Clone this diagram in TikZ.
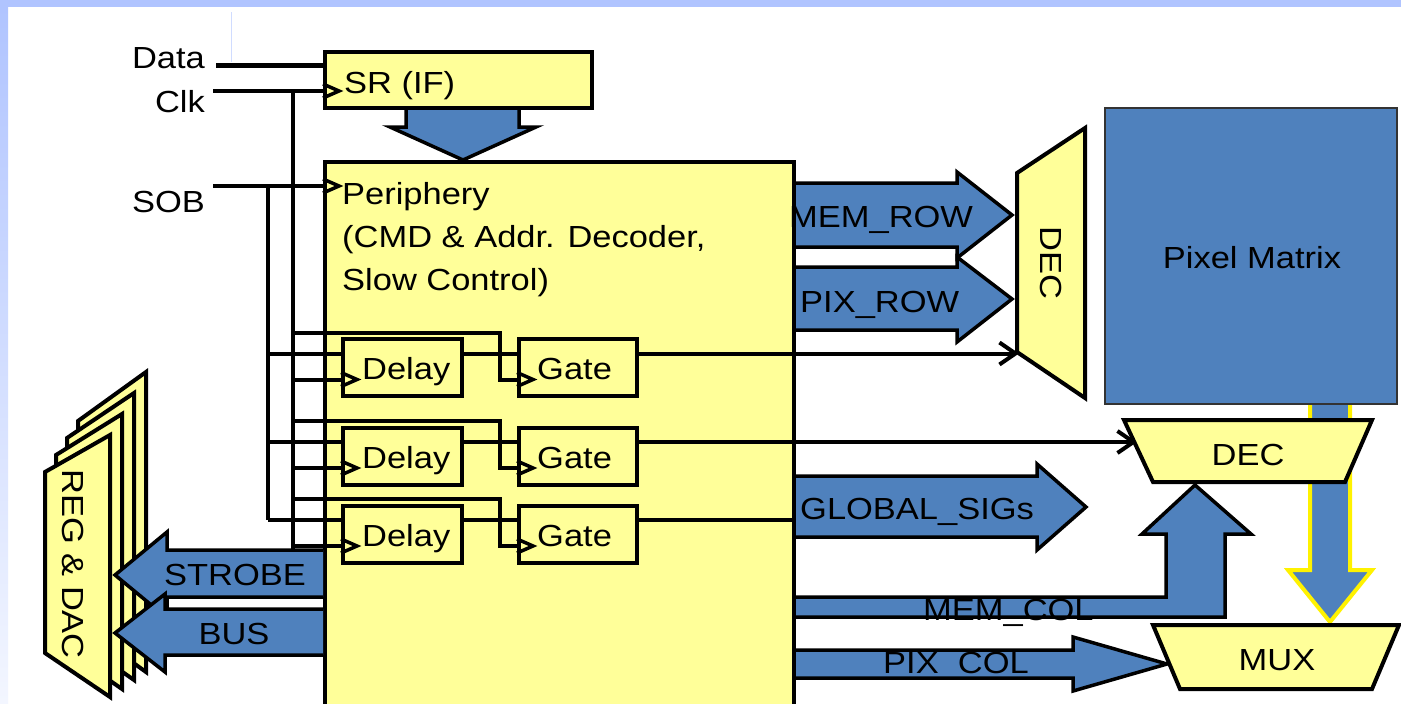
\documentclass[tikz,border=0pt]{standalone}
\usepackage{fontspec}
\setmainfont{Liberation Sans}[FakeStretch=1.13]
\usetikzlibrary{arrows.meta}

\definecolor{slideblue}{RGB}{176,196,255}
\definecolor{padyellow}{RGB}{255,255,153}
\definecolor{busblue}{RGB}{79,129,189}

\tikzset{
  blk/.style={draw,line width=4pt,fill=padyellow,inner sep=0pt},
  lbl/.style={inner sep=0pt,font=\fontsize{30.5}{36}\selectfont},
  wire/.style={line width=4pt},
  fat/.style={draw,line width=3.5pt,fill=busblue},
  outarrow/.style={-{Straight Barb[length=16pt,width=22pt]}},
  clkmark/.pic={\draw[line width=3.5pt] (0,-7) -- (16,0) -- (0,7);},
}

\begin{document}
\begin{tikzpicture}[x=1pt,y=-1pt]
  \useasboundingbox (0,0) rectangle (1401,704);
  \clip (0,0) rectangle (1401,704);
  \pgfmathsetmacro\rowA{367.5}
  \pgfmathsetmacro\rowB{456}
  \pgfmathsetmacro\rowC{534}

% slide frame
  \fill[white] (0,0) rectangle (1401,704);
  \fill[slideblue] (0,0) rectangle (1401,7);
  \shade[top color=slideblue,bottom color=slideblue!15] (0,7) rectangle (8,704);
  \draw[slideblue!60,line width=1pt] (231,12) -- (231,62);

% periphery and shift register
  \node[blk,minimum width=469pt,minimum height=558pt] (peri) at (559.5,441) {};
  \node[blk,minimum width=267pt,minimum height=56pt] (sr) at (458.5,80) {};
  \filldraw[fat] (406,110) -- (406,127) -- (390,127) -- (peri.north -| 463,0) -- (536,127) -- (519,127) -- (519,110);

% serial inputs and buses
  \coordinate (dataIn) at (216,65);
  \coordinate (clkIn)  at (213,91);
  \coordinate (sobIn)  at (213,186);
  \coordinate (clkBus) at (293,91);
  \coordinate (sobBus) at (268,186);
  \draw[line width=5pt] (dataIn) -- (sr.west |- dataIn);
  \draw[wire] (clkIn) -- (sr.west |- clkIn);
  \draw[wire] (sobIn) -- (peri.west |- sobIn);
  \draw[wire] (clkBus) -- (clkBus |- 0,549);
  \draw[wire] (sobBus) -- (sobBus |- 0,\rowC-14);
  \pic at (sr.west |- clkIn) {clkmark};
  \pic at (peri.west |- sobIn) {clkmark};

% delay / gate rows
  \node[blk,minimum width=119pt,minimum height=57pt] (dly1) at (402.5,\rowA) {};
  \node[blk,minimum width=118pt,minimum height=57pt] (gat1) at (578,\rowA) {};
  \node[blk,minimum width=119pt,minimum height=57pt] (dly2) at (402.5,\rowB) {};
  \node[blk,minimum width=118pt,minimum height=57pt] (gat2) at (578,\rowB) {};
  \node[blk,minimum width=119pt,minimum height=57pt] (dly3) at (402.5,\rowC) {};
  \node[blk,minimum width=118pt,minimum height=57pt] (gat3) at (578,\rowC) {};
  \coordinate (decRowIn) at (1019,\rowA-14);
  \coordinate (decColIn) at (1137,\rowB-14);

  \draw[wire] (sobBus |- 0,\rowA-14) -- (dly1.west |- 0,\rowA-14);
  \draw[wire] (clkBus |- 0,\rowA+12) -- (dly1.west |- 0,\rowA+12);
  \draw[wire] (dly1.east |- 0,\rowA-14) -- (gat1.west |- 0,\rowA-14);
  \draw[wire] (clkBus |- 0,\rowA-35) -| (500,\rowA+12) -- (gat1.west |- 0,\rowA+12);
  \draw[wire,outarrow] (gat1.east |- 0,\rowA-14) -- (decRowIn);

  \draw[wire] (sobBus |- 0,\rowB-14) -- (dly2.west |- 0,\rowB-14);
  \draw[wire] (clkBus |- 0,\rowB+12) -- (dly2.west |- 0,\rowB+12);
  \draw[wire] (dly2.east |- 0,\rowB-14) -- (gat2.west |- 0,\rowB-14);
  \draw[wire] (clkBus |- 0,\rowB-35) -| (500,\rowB+12) -- (gat2.west |- 0,\rowB+12);
  \draw[wire,outarrow] (gat2.east |- 0,\rowB-14) -- (decColIn);

  \draw[wire] (sobBus |- 0,\rowC-14) -- (dly3.west |- 0,\rowC-14);
  \draw[wire] (clkBus |- 0,\rowC+12) -- (dly3.west |- 0,\rowC+12);
  \draw[wire] (dly3.east |- 0,\rowC-14) -- (gat3.west |- 0,\rowC-14);
  \draw[wire] (clkBus |- 0,\rowC-35) -| (500,\rowC+12) -- (gat3.west |- 0,\rowC+12);
  \draw[wire] (gat3.east |- 0,\rowC-14) -- (peri.east |- 0,\rowC-14);

  \pic at (dly1.west |- 0,\rowA+12) {clkmark};
  \pic at (gat1.west |- 0,\rowA+12) {clkmark};
  \pic at (dly2.west |- 0,\rowB+12) {clkmark};
  \pic at (gat2.west |- 0,\rowB+12) {clkmark};
  \pic at (dly3.west |- 0,\rowC+12) {clkmark};
  \pic at (gat3.west |- 0,\rowC+12) {clkmark};

% register & DAC stack
  \filldraw[blk] (78,421) -- (146,372) -- (146,672) -- (78,623) -- cycle;
  \filldraw[blk] (67,438) -- (134,393) -- (134,680) -- (67,633) -- cycle;
  \filldraw[blk] (56,455) -- (122,414) -- (122,689) -- (56,643) -- cycle;
  \filldraw[blk] (45,472) -- (110,435) -- (110,697) -- (45,653) -- cycle;
  \filldraw[fat] (peri.west |- 0,550) -- (167,550) -- (167,532) -- (115,575) -- (167,618) -- (167,597) -- (peri.west |- 0,597);
  \filldraw[fat] (peri.west |- 0,609) -- (165,609) -- (165,594) -- (115,633) -- (165,672) -- (165,655) -- (peri.west |- 0,655);

% row side
  \filldraw[fat] (peri.east |- 0,183) -- (957,183) -- (957,172) -- (1012,215) -- (957,258) -- (957,247) -- (peri.east |- 0,247);
  \filldraw[fat] (peri.east |- 0,267) -- (957,267) -- (957,257) -- (1012,299) -- (957,342) -- (957,330) -- (peri.east |- 0,330);
  \filldraw[blk] (1017,173) -- (1085,128) -- (1085,398) -- (1017,352) -- cycle;

% column side
  \filldraw[fat,draw=yellow,line width=4pt] (1310,404) -- (1310,570) -- (1288,570) -- (1330,622) -- (1372,570) -- (1350,570) -- (1350,404);
  \node[draw=black!80,line width=1.5pt,fill=busblue,minimum width=292pt,minimum height=296pt,inner sep=0pt] (pix) at (1251,256) {};
  \filldraw[fat] (peri.east |- 0,476) -- (1037,476) -- (1037,464) -- (1086,507) -- (1037,550) -- (1037,537) -- (peri.east |- 0,537);
  \filldraw[fat] (peri.east |- 0,597) -- (1166,597) -- (1166,534) -- (1142,534) -- (1195,485) -- (1251,534) -- (1225,534) -- (1225,617) -- (peri.east |- 0,617);
  \filldraw[fat] (peri.east |- 0,650) -- (1073,650) -- (1073,637) -- (1167,664) -- (1073,691) -- (1073,678) -- (peri.east |- 0,678);
  \filldraw[blk] (1124,420) -- (1372,420) -- (1345,482) -- (1153,482) -- cycle;
  \filldraw[blk] (1153,625) -- (1399,625) -- (1372,689) -- (1180,689) -- cycle;

% labels
  \node[lbl,anchor=base east] (tData) at (205,68) {Data};
  \node[lbl,anchor=base east] (tClk) at (205,112) {Clk};
  \node[lbl,anchor=base east] (tSob) at (205,212) {SOB};
  \node[lbl,anchor=base west] (tSr) at (344,93) {SR (IF)};
  \node[lbl,anchor=base west] (periA) at (342,204) {Periphery};
  \node[lbl,anchor=base west] (periB) at (342,247) {(CMD \& Addr. Decoder,};
  \node[lbl,anchor=base west] (periC) at (342,290) {Slow Control)};
  \node[lbl,anchor=base west] (tDly1) at (362,\rowA+12) {Delay};
  \node[lbl,anchor=base west] (tGat1) at (537,\rowA+12) {Gate};
  \node[lbl,anchor=base west] (tDly2) at (362,\rowB+12) {Delay};
  \node[lbl,anchor=base west] (tGat2) at (537,\rowB+12) {Gate};
  \node[lbl,anchor=base west] (tDly3) at (362,\rowC+12) {Delay};
  \node[lbl,anchor=base west] (tGat3) at (537,\rowC+12) {Gate};
  \node[lbl,rotate=-90] (tReg) at (73,564) {REG \& DAC};
  \node[lbl,anchor=base] (tStrobe) at (235,585) {STROBE};
  \node[lbl,anchor=base] (tBus) at (234,644) {BUS};
  \node[lbl,anchor=base west] (tMemRow) at (789,227) {MEM\_ROW};
  \node[lbl,anchor=base west] (tPixRow) at (800,312) {PIX\_ROW};
  \node[lbl,rotate=-90] (tDecRow) at (1051,263) {DEC};
  \node[lbl,anchor=base] (tPix) at (1252,268) {Pixel Matrix};
  \node[lbl,anchor=base west] (tGlob) at (800,519) {GLOBAL\_SIGs};
  \node[lbl,anchor=base west] (tMemCol) at (923,620) {MEM\_COL};
  \node[lbl,anchor=base west] (tPixCol) at (883,673) {PIX\_COL};
  \node[lbl,anchor=base] (tDecCol) at (1248,465) {DEC};
  \node[lbl,anchor=base] (tMux) at (1277,670) {MUX};
\end{tikzpicture}
\end{document}
